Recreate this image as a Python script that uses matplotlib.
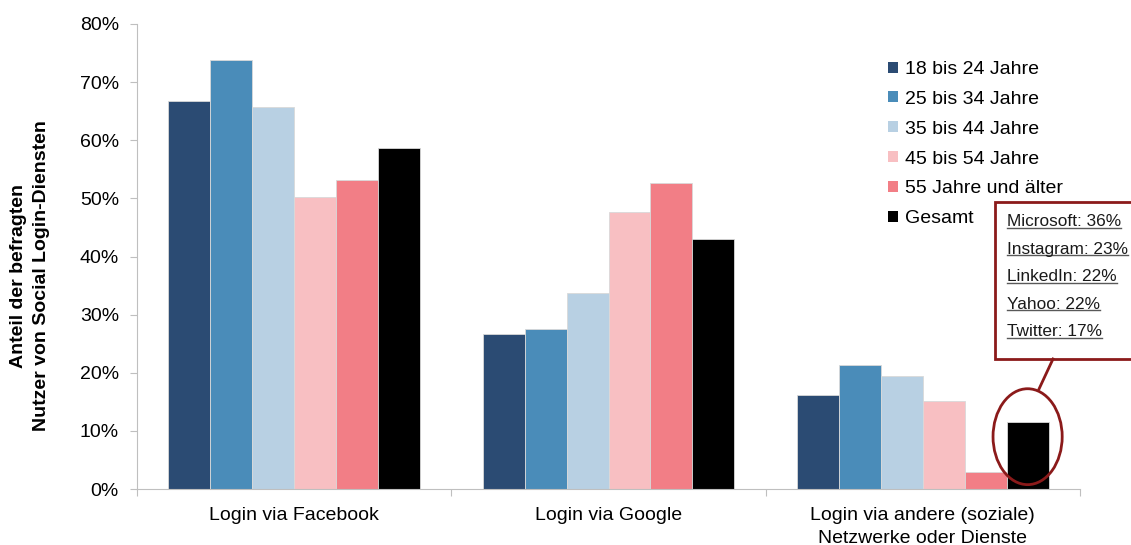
import numpy as np
import matplotlib.pyplot as plt
from matplotlib.patches import Patch, Rectangle, Ellipse
from matplotlib.lines import Line2D

plt.rcParams['font.family'] = ['Liberation Sans', 'DejaVu Sans']

categories = ["Login via Facebook", "Login via Google",
              "Login via andere (soziale)\nNetzwerke oder Dienste"]
groups = ["18 bis 24 Jahre", "25 bis 34 Jahre", "35 bis 44 Jahre",
          "45 bis 54 Jahre", "55 Jahre und älter", "Gesamt"]
v_18_24 = [66.8, 26.7, 16.2]
v_25_34 = [73.8, 27.6, 21.3]
v_35_44 = [65.8, 33.8, 19.4]
v_45_54 = [50.2, 47.7, 15.2]
v_55_up = [53.1, 52.7, 2.9]
v_total = [58.6, 43.0, 11.5]
others = ["Microsoft: 36%", "Instagram: 23%", "LinkedIn: 22%",
          "Yahoo: 22%", "Twitter: 17%"]

colors = ["#2b4b73", "#4a8cb9", "#b8d0e3", "#f8bfc2", "#f27e86", "#000000"]
series = [v_18_24, v_25_34, v_35_44, v_45_54, v_55_up, v_total]

fig = plt.figure(figsize=(11.31, 5.45), dpi=100)
ax = fig.add_axes([137 / 1131, 56 / 545, 943 / 1131, 465 / 545])

x = np.arange(len(categories))
w = 0.8 / len(series)
for i, (vals, c) in enumerate(zip(series, colors)):
    ax.bar(x + (i - 2.5) * w, vals, w, color=c, edgecolor="#d9d9d9",
           linewidth=0.6)

ax.set_xlim(-0.5, 2.5)
ax.set_ylim(0, 80)
ax.set_yticks(range(0, 81, 10))
ax.set_yticklabels([f"{t}%" for t in range(0, 81, 10)], fontsize=14)
ax.set_xticks([-0.5, 0.5, 1.5, 2.5])
ax.set_xticklabels([])
ax.set_xticks(x, minor=True)
ax.set_xticklabels(categories, minor=True, fontsize=14, linespacing=1.45)
ax.tick_params(axis="x", which="minor", length=0, pad=13)
ax.tick_params(axis="x", which="major", length=5, color="#bfbfbf")
ax.tick_params(axis="y", length=5, color="#bfbfbf", pad=8)
for s in ["top", "right"]:
    ax.spines[s].set_visible(False)
for s in ["left", "bottom"]:
    ax.spines[s].set_color("#bfbfbf")

fig.text(30 / 1131, 1 - 276 / 545,
         "Anteil der befragten\nNutzer von Social Login-Diensten",
         rotation=90, ha="center", va="center", fontsize=14,
         fontweight="bold", linespacing=1.45)

handles = [Patch(facecolor=c, edgecolor="none") for c in colors]
fig.legend(handles, groups, loc="upper left",
           bbox_to_anchor=(888 / 1131, 1 - 61 / 545), frameon=False,
           fontsize=14, handlelength=0.5, handleheight=0.5,
           handletextpad=0.35, labelspacing=0.66, borderaxespad=0,
           borderpad=0)

# callout
red = "#8b1a1a"
ax.add_patch(Ellipse((x[2] + 2.5 * w, 9.0), 0.22, 16.5, fill=False,
                     edgecolor=red, linewidth=2, clip_on=False))
fig.add_artist(Rectangle((995 / 1131, 1 - 359 / 545), 0.2, 157 / 545,
                         fill=True, facecolor="white", edgecolor=red,
                         linewidth=2, transform=fig.transFigure))
fig.add_artist(Line2D([1039 / 1131, 1053 / 1131],
                      [1 - 389 / 545, 1 - 359 / 545], color=red,
                      linewidth=2, transform=fig.transFigure))
texts = []
for k, s in enumerate(others):
    t = fig.text(1007 / 1131, 1 - (222 + k * 27.4) / 545, s, fontsize=12.4,
                 color="#1a1a1a", va="center", ha="left")
    texts.append(t)

fig.canvas.draw()
r = fig.canvas.get_renderer()
for t in texts:
    bb = t.get_window_extent(r)
    yy = (bb.y0 + 1.5) / fig.bbox.height
    fig.add_artist(Line2D([bb.x0 / fig.bbox.width, bb.x1 / fig.bbox.width],
                          [yy, yy], color="#595959", linewidth=1,
                          transform=fig.transFigure))

fig.savefig("out.png", dpi=100)
